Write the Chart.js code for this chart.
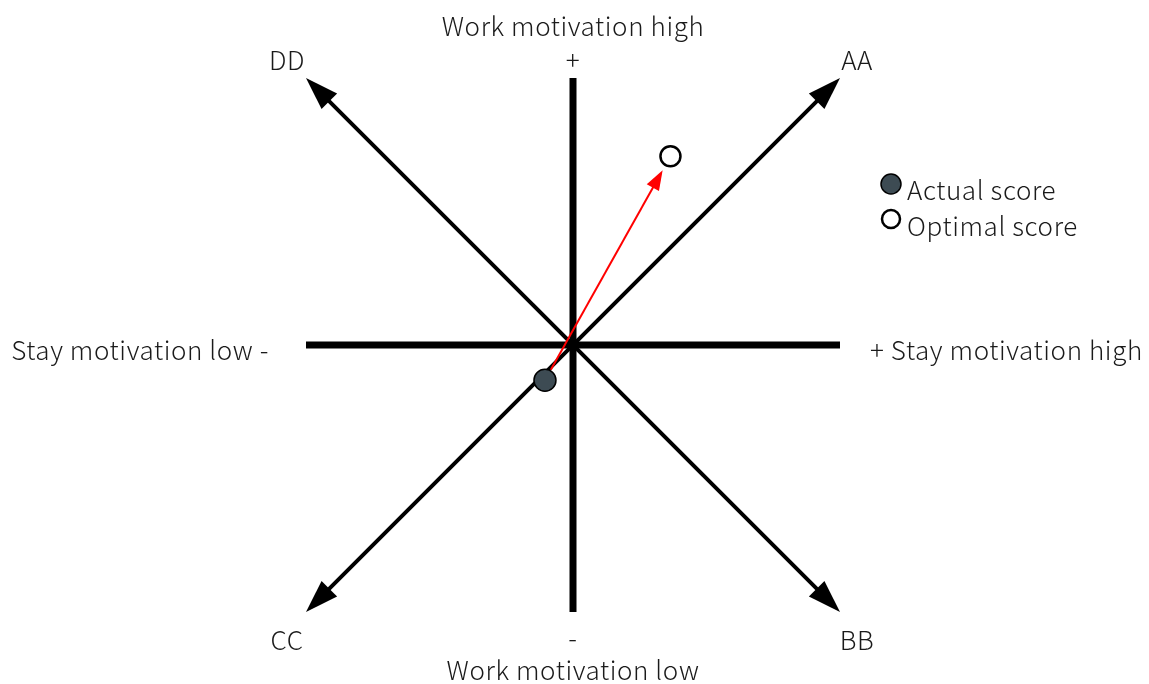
<!DOCTYPE html>
<html>
<head>
<meta charset="utf-8">
<script src="https://cdn.jsdelivr.net/npm/chart.js@4/dist/chart.umd.min.js"></script>
<style>
body { margin: 0; background: #fff; }
#wrap { width: 1149px; height: 684px; }
</style>
</head>
<body>
<div id="wrap"><canvas id="quadChart" width="1149" height="684"></canvas></div>
<script>
// directions at the ends of the diagonals
const directions = ['AA', 'BB', 'CC', 'DD'];
const directionX = [1, 1, -1, -1];
const directionY = [1, -1, -1, 1];

// scores as [stay motivation, work motivation]
const seriesNames = ['Actual score', 'Optimal score'];
const actualScore = [-0.105, -0.132];
const optimalScore = [0.365, 0.707];

const axisTitles = ['Work motivation high', 'Work motivation low', 'Stay motivation low -', '+ Stay motivation high'];
const axisSigns = ['+', '-'];

const FONT = '300 26px "Noto Sans CJK JP", "Noto Sans", sans-serif';
const TEXT = '#1a1a1a';
const DIAG = 0.95; // diagonal stops short of the arrow tip

function lineSet(pts, width) {
    return {
        data: pts.map(p => ({ x: p[0], y: p[1] })),
        showLine: true,
        pointRadius: 0,
        borderColor: '#000',
        borderWidth: width,
        borderCapStyle: 'butt',
        clip: false
    };
}

function arrowHead(ctx, fx, fy, tx, ty, len, half, color) {
    const a = Math.atan2(ty - fy, tx - fx);
    ctx.save();
    ctx.fillStyle = color;
    ctx.beginPath();
    ctx.moveTo(tx, ty);
    ctx.lineTo(tx - len * Math.cos(a) + half * Math.sin(a), ty - len * Math.sin(a) - half * Math.cos(a));
    ctx.lineTo(tx - len * Math.cos(a) - half * Math.sin(a), ty - len * Math.sin(a) + half * Math.cos(a));
    ctx.closePath();
    ctx.fill();
    ctx.restore();
}

const overlay = {
    id: 'overlay',
    afterDatasetsDraw(chart) {
        const ctx = chart.ctx;
        const xs = chart.scales.x, ys = chart.scales.y;
        const px = v => xs.getPixelForValue(v);
        const py = v => ys.getPixelForValue(v);
        const cx = px(0), cy = py(0);

        // arrow heads on the diagonals
        directions.forEach((d, i) => {
            arrowHead(ctx, cx, cy, px(directionX[i]), py(directionY[i]), 33, 11, '#000');
        });

        // red arrow from actual to optimal
        const ax = px(actualScore[0]), ay = py(actualScore[1]);
        const ox = px(optimalScore[0]), oy = py(optimalScore[1]);
        const len = Math.hypot(ox - ax, oy - ay);
        const ux = (ox - ax) / len, uy = (oy - ay) / len;
        const sx = ax + ux * 12, sy = ay + uy * 12;
        const ex = ox - ux * 16, ey = oy - uy * 16;
        ctx.save();
        ctx.strokeStyle = '#ff0000';
        ctx.lineWidth = 2;
        ctx.beginPath();
        ctx.moveTo(sx, sy);
        ctx.lineTo(ex - ux * 16, ey - uy * 16);
        ctx.stroke();
        ctx.restore();
        arrowHead(ctx, sx, sy, ex, ey, 20, 7, '#ff0000');

        // texts
        ctx.save();
        ctx.font = FONT;
        ctx.letterSpacing = '0.6px';
        ctx.fillStyle = TEXT;
        ctx.textBaseline = 'middle';
        ctx.textAlign = 'center';
        ctx.fillText(axisTitles[0], cx, py(1) - 52);
        ctx.fillText(axisSigns[0], cx, py(1) - 18);
        ctx.fillText(axisSigns[1], cx, py(-1) + 26);
        ctx.fillText(axisTitles[1], cx, py(-1) + 58);
        directions.forEach((d, i) => {
            const lx = px(directionX[i]) + (directionX[i] > 0 ? 17 : -19);
            const ly = py(directionY[i]) + (directionY[i] > 0 ? -18 : 28);
            ctx.fillText(d, lx, ly);
        });
        ctx.textAlign = 'right';
        ctx.fillText(axisTitles[2], px(-1) - 37, cy + 5);
        ctx.textAlign = 'left';
        ctx.fillText(axisTitles[3], px(1) + 30, cy + 5);

        // legend
        const lx = px(1) + 51;
        const ly = [py(1) + 106, py(1) + 141];
        ctx.beginPath();
        ctx.arc(lx, ly[0], 10, 0, Math.PI * 2);
        ctx.fillStyle = '#3d4b53';
        ctx.fill();
        ctx.lineWidth = 1.5;
        ctx.strokeStyle = '#000';
        ctx.stroke();
        ctx.beginPath();
        ctx.arc(lx, ly[1], 9, 0, Math.PI * 2);
        ctx.fillStyle = '#fff';
        ctx.fill();
        ctx.lineWidth = 2.5;
        ctx.stroke();
        ctx.fillStyle = TEXT;
        ctx.fillText(seriesNames[0], lx + 16, ly[0] + 6);
        ctx.fillText(seriesNames[1], lx + 16, ly[1] + 7);
        ctx.restore();
    }
};

const ctx = document.getElementById('quadChart').getContext('2d');
const quadChart = new Chart(ctx, {
    type: 'scatter',
    data: {
        datasets: [
            {
                label: seriesNames[0],
                data: [{ x: actualScore[0], y: actualScore[1] }],
                pointRadius: 11,
                backgroundColor: '#3d4b53',
                borderColor: '#000',
                borderWidth: 1.5,
                clip: false
            },
            {
                label: seriesNames[1],
                data: [{ x: optimalScore[0], y: optimalScore[1] }],
                pointRadius: 10,
                backgroundColor: '#fff',
                borderColor: '#000',
                borderWidth: 2.5,
                clip: false
            },
            lineSet([[-1, 0], [1, 0]], 7),
            lineSet([[0, -1], [0, 1]], 7),
            lineSet([[-DIAG, -DIAG], [DIAG, DIAG]], 4),
            lineSet([[-DIAG, DIAG], [DIAG, -DIAG]], 4)
        ]
    },
    options: {
        responsive: false,
        animation: false,
        layout: { padding: { left: 306, right: 309, top: 78, bottom: 72 } },
        plugins: {
            legend: { display: false },
            tooltip: { enabled: false }
        },
        scales: {
            x: { type: 'linear', min: -1, max: 1, display: false },
            y: { type: 'linear', min: -1, max: 1, display: false }
        }
    },
    plugins: [overlay]
});
</script>
</body>
</html>
